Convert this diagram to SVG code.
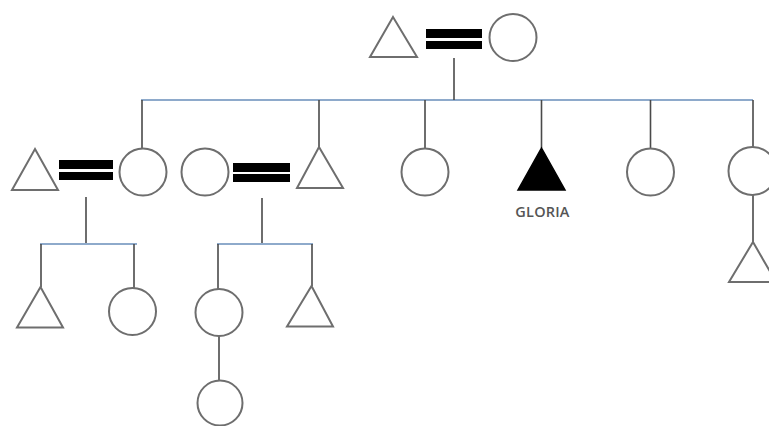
<svg xmlns="http://www.w3.org/2000/svg" width="769" height="426" viewBox="0 0 769 426">
<style>
.shape{fill:#fff;stroke:#6e6e6e;stroke-width:2}
.aff{fill:#000;stroke:#000;stroke-width:1.5}
.bar{fill:#000}
.sib{stroke:#8eaacb;stroke-width:2;fill:none}
.ln{stroke:#4a4a4a;stroke-width:1.6;fill:none}
.lbl{font-family:"Open Sans","Liberation Sans",sans-serif;font-weight:600;font-size:14.5px;letter-spacing:0.2px;fill:#555;text-anchor:middle}
</style>
<rect width="769" height="426" fill="#fff"/>
<g id="connectors">
<line class="sib" x1="141" y1="100" x2="753" y2="100"/>
<line class="ln" x1="454" y1="58" x2="454" y2="100"/>
<line class="ln" x1="142" y1="100" x2="142" y2="148"/>
<line class="ln" x1="319" y1="100" x2="319" y2="147"/>
<line class="ln" x1="425" y1="100" x2="425" y2="148"/>
<line class="ln" x1="541.5" y1="100" x2="541.5" y2="148"/>
<line class="ln" x1="650.5" y1="100" x2="650.5" y2="148"/>
<line class="ln" x1="753" y1="100" x2="753" y2="147"/>
<line class="ln" x1="753" y1="195" x2="753" y2="242"/>
<line class="ln" x1="86" y1="197" x2="86" y2="244"/>
<line class="sib" x1="40" y1="244" x2="137" y2="244"/>
<line class="ln" x1="41" y1="244" x2="41" y2="287"/>
<line class="ln" x1="134" y1="244" x2="134" y2="288"/>
<line class="ln" x1="262" y1="198" x2="262" y2="244"/>
<line class="sib" x1="217" y1="244" x2="313" y2="244"/>
<line class="ln" x1="218" y1="244" x2="218" y2="289"/>
<line class="ln" x1="312" y1="244" x2="312" y2="286"/>
<line class="ln" x1="219" y1="336" x2="219" y2="381"/>
</g>
<g id="gp-father"><polygon class="shape" points="393,17 417,57 370,57"/></g>
<g id="gp-marriage"><rect class="bar" x="426" y="29" width="56" height="9"/><rect class="bar" x="426" y="41" width="56" height="8"/></g>
<g id="gp-mother"><circle class="shape" cx="513" cy="37.5" r="23.5"/></g>
<g id="a-husband"><polygon class="shape" points="35,149 58,190 12,190"/></g>
<g id="a-marriage"><rect class="bar" x="59" y="160" width="54" height="9"/><rect class="bar" x="59" y="172" width="54" height="8"/></g>
<g id="a-daughter"><circle class="shape" cx="143" cy="172" r="23.5"/></g>
<g id="b-wife"><circle class="shape" cx="205" cy="172" r="23.5"/></g>
<g id="b-marriage"><rect class="bar" x="233" y="163" width="57" height="9"/><rect class="bar" x="233" y="174" width="57" height="8"/></g>
<g id="b-son"><polygon class="shape" points="319,147 343,188 297,188"/></g>
<g id="daughter3"><circle class="shape" cx="425" cy="172" r="23.5"/></g>
<g id="gloria"><polygon class="aff" points="541.5,148 565,190 518,190"/><text class="lbl" x="542.5" y="217">GLORIA</text></g>
<g id="daughter4"><circle class="shape" cx="650.5" cy="172" r="23.5"/></g>
<g id="daughter5"><circle class="shape" cx="752.5" cy="171" r="24"/></g>
<g id="d5-son"><polygon class="shape" points="753,242 776,282 729,282"/></g>
<g id="a-son"><polygon class="shape" points="40.5,287 63,327.5 17,327.5"/></g>
<g id="a-dau"><circle class="shape" cx="132.5" cy="311.5" r="23.5"/></g>
<g id="b-dau"><circle class="shape" cx="219" cy="312.5" r="23.5"/></g>
<g id="b-granddau"><circle class="shape" cx="220" cy="403" r="22.5"/></g>
<g id="b-son2"><polygon class="shape" points="311.5,286 333,326.5 287,326.5"/></g>
</svg>
